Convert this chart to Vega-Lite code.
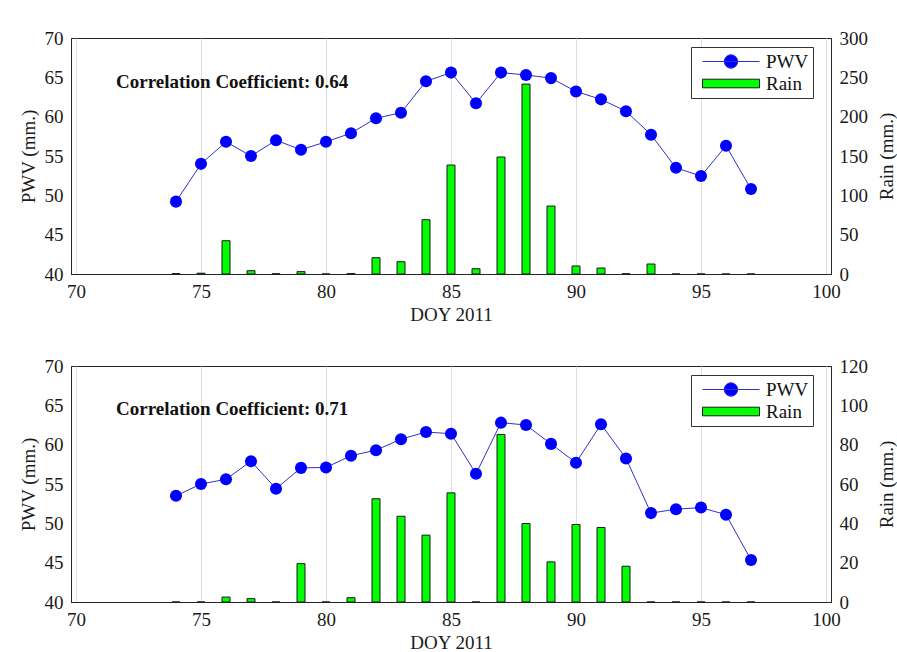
{
  "$schema": "https://vega.github.io/schema/vega-lite/v6.json",
  "background": "white",
  "padding": {"left": 18, "top": 28, "right": 0, "bottom": 0},
  "config": {
    "font": "Liberation Serif, Times New Roman, Tinos, serif",
    "style": {
      "guide-label": {"font": "Liberation Serif, Times New Roman, Tinos, serif"},
      "guide-title": {"font": "Liberation Serif, Times New Roman, Tinos, serif"}
    },
    "view": {"stroke": "#262626", "strokeWidth": 1},
    "axis": {
      "labelFont": "Liberation Serif, Times New Roman, Tinos, serif", "labelFontSize": 19, "labelColor": "#1a1a1a",
      "titleFont": "Liberation Serif, Times New Roman, Tinos, serif", "titleFontSize": 19, "titleFontWeight": "normal", "titleColor": "#1a1a1a",
      "domainColor": "#262626", "gridColor": "#dedede", "ticks": false, "labelPadding": 8
    },
    "legend": {
      "orient": "none", "legendX": 620, "legendY": 9, "title": null,
      "labelFont": "Liberation Serif, Times New Roman, Tinos, serif",
      "labelFontSize": 19, "labelColor": "#111",
      "symbolSize": 400, "labelOffset": 50, "padding": 4, "rowPadding": 1,
      "strokeColor": "#333", "fillColor": "white",
      "symbolOpacity": 1, "symbolStrokeWidth": 1
    }
  },
  "datasets": {
    "top": [
      {"doy": 74, "pwv": 49.2, "rain": 0.5},
      {"doy": 75, "pwv": 54.0, "rain": 1},
      {"doy": 76, "pwv": 56.8, "rain": 42.3},
      {"doy": 77, "pwv": 55.0, "rain": 4.2},
      {"doy": 78, "pwv": 57.0, "rain": 0.3},
      {"doy": 79, "pwv": 55.8, "rain": 3},
      {"doy": 80, "pwv": 56.8, "rain": 0},
      {"doy": 81, "pwv": 57.9, "rain": 0.5},
      {"doy": 82, "pwv": 59.8, "rain": 20.7},
      {"doy": 83, "pwv": 60.5, "rain": 15.6},
      {"doy": 84, "pwv": 64.5, "rain": 69},
      {"doy": 85, "pwv": 65.6, "rain": 138.5},
      {"doy": 86, "pwv": 61.7, "rain": 6.7},
      {"doy": 87, "pwv": 65.6, "rain": 148.7},
      {"doy": 88, "pwv": 65.3, "rain": 241.4},
      {"doy": 89, "pwv": 64.9, "rain": 86.4},
      {"doy": 90, "pwv": 63.2, "rain": 10.2},
      {"doy": 91, "pwv": 62.2, "rain": 7.6},
      {"doy": 92, "pwv": 60.7, "rain": 0.3},
      {"doy": 93, "pwv": 57.7, "rain": 12.7},
      {"doy": 94, "pwv": 53.5, "rain": 0},
      {"doy": 95, "pwv": 52.45, "rain": 0},
      {"doy": 96, "pwv": 56.3, "rain": 0},
      {"doy": 97, "pwv": 50.8, "rain": 0}
    ],
    "bottom": [
      {"doy": 74, "pwv": 53.5, "rain": 0},
      {"doy": 75, "pwv": 55.0, "rain": 0},
      {"doy": 76, "pwv": 55.6, "rain": 2.5},
      {"doy": 77, "pwv": 57.9, "rain": 1.7},
      {"doy": 78, "pwv": 54.4, "rain": 0},
      {"doy": 79, "pwv": 57.05, "rain": 19.5},
      {"doy": 80, "pwv": 57.1, "rain": 0},
      {"doy": 81, "pwv": 58.6, "rain": 2.2},
      {"doy": 82, "pwv": 59.3, "rain": 52.5},
      {"doy": 83, "pwv": 60.7, "rain": 43.6},
      {"doy": 84, "pwv": 61.6, "rain": 34},
      {"doy": 85, "pwv": 61.4, "rain": 55.5},
      {"doy": 86, "pwv": 56.3, "rain": 0},
      {"doy": 87, "pwv": 62.8, "rain": 85.2},
      {"doy": 88, "pwv": 62.5, "rain": 39.9},
      {"doy": 89, "pwv": 60.1, "rain": 20.4},
      {"doy": 90, "pwv": 57.7, "rain": 39.4},
      {"doy": 91, "pwv": 62.6, "rain": 37.9},
      {"doy": 92, "pwv": 58.25, "rain": 18.2},
      {"doy": 93, "pwv": 51.3, "rain": 0},
      {"doy": 94, "pwv": 51.8, "rain": 0},
      {"doy": 95, "pwv": 52.0, "rain": 0},
      {"doy": 96, "pwv": 51.1, "rain": 0},
      {"doy": 97, "pwv": 45.35, "rain": 0}
    ],
    "series": [{"series": "PWV"}, {"series": "Rain"}]
  },
  "resolve": {"scale": {"color": "independent", "shape": "independent", "stroke": "independent"}, "legend": {"color": "independent", "shape": "independent", "stroke": "independent"}},
  "spacing": 31,
  "vconcat": [
    {
      "width": 760, "height": 236,
      "data": {"name": "top"},
      "resolve": {"scale": {"y": "independent"}},
      "layer": [
        {
          "mark": {"type": "bar", "size": 8, "fill": "#00ff00", "stroke": "#1a1a1a", "strokeWidth": 1},
          "encoding": {
            "x": {"field": "doy", "type": "quantitative", "scale": {"domain": [70, 100], "nice": false, "zero": false}, "axis": {"values": [70, 75, 80, 85, 90, 95, 100], "title": "DOY 2011", "titlePadding": 4}},
            "y": {"field": "rain", "type": "quantitative", "scale": {"domain": [0, 300], "nice": false}, "axis": {"orient": "right", "values": [0, 50, 100, 150, 200, 250, 300], "title": "Rain (mm.)", "titleAngle": 270, "titleBaseline": "top", "titlePadding": 10, "grid": false}}
          }
        },
        {
          "layer": [
            {
              "mark": {"type": "line", "color": "#3030c8", "strokeWidth": 1},
              "encoding": {
                "x": {"field": "doy", "type": "quantitative"},
                "y": {"field": "pwv", "type": "quantitative", "scale": {"domain": [40, 70], "nice": false, "zero": false}, "axis": {"values": [40, 45, 50, 55, 60, 65, 70], "title": "PWV (mm.)", "titlePadding": 6}}
              }
            },
            {
              "mark": {"type": "point", "filled": true, "size": 145, "opacity": 1, "shape": "circle", "color": "#0000ff"},
              "encoding": {
                "x": {"field": "doy", "type": "quantitative"},
                "y": {"field": "pwv", "type": "quantitative", "scale": {"domain": [40, 70], "nice": false, "zero": false}, "axis": {"values": [40, 45, 50, 55, 60, 65, 70], "title": "PWV (mm.)", "titlePadding": 6}}
              }
            },
            {
              "data": {"values": [{"doy": 71.6, "pwv": 64.4, "label": "Correlation Coefficient: 0.64"}]},
              "mark": {"type": "text", "align": "left", "baseline": "middle", "font": "Liberation Serif, Times New Roman, Tinos, serif", "fontWeight": "bold", "fontSize": 19, "color": "#111"},
              "encoding": {
                "x": {"field": "doy", "type": "quantitative"},
                "y": {"field": "pwv", "type": "quantitative", "scale": {"domain": [40, 70], "nice": false, "zero": false}, "axis": {"values": [40, 45, 50, 55, 60, 65, 70], "title": "PWV (mm.)", "titlePadding": 6}},
                "text": {"field": "label"}
              }
            }
          ]
        },
        {
          "data": {"name": "series"},
          "mark": {"type": "point", "filled": true, "opacity": 0},
          "encoding": {
            "color": {"field": "series", "type": "nominal", "scale": {"domain": ["PWV", "Rain"], "range": ["#0000ff", "#00ff00"]}, "legend": {"labelExpr": "datum.label + '\u00a0'"}},
            "shape": {"field": "series", "type": "nominal", "scale": {"domain": ["PWV", "Rain"], "range": ["M-0.3,0H5.4M1.88,0A0.67,0.67 0 1,0 3.22,0A0.67,0.67 0 1,0 1.88,0Z", "M-0.3,-0.43H5.4V0.43H-0.3Z"]}, "legend": {"labelExpr": "datum.label + '\u00a0'"}},
            "stroke": {"field": "series", "type": "nominal", "scale": {"domain": ["PWV", "Rain"], "range": ["#3030c8", "#1a1a1a"]}, "legend": {"labelExpr": "datum.label + '\u00a0'"}}
          }
        }
      ]
    },
    {
      "width": 760, "height": 236,
      "data": {"name": "bottom"},
      "resolve": {"scale": {"y": "independent"}},
      "layer": [
        {
          "mark": {"type": "bar", "size": 8, "fill": "#00ff00", "stroke": "#1a1a1a", "strokeWidth": 1},
          "encoding": {
            "x": {"field": "doy", "type": "quantitative", "scale": {"domain": [70, 100], "nice": false, "zero": false}, "axis": {"values": [70, 75, 80, 85, 90, 95, 100], "title": "DOY 2011", "titlePadding": 4}},
            "y": {"field": "rain", "type": "quantitative", "scale": {"domain": [0, 120], "nice": false}, "axis": {"orient": "right", "values": [0, 20, 40, 60, 80, 100, 120], "title": "Rain (mm.)", "titleAngle": 270, "titleBaseline": "top", "titlePadding": 10, "grid": false}}
          }
        },
        {
          "layer": [
            {
              "mark": {"type": "line", "color": "#3030c8", "strokeWidth": 1},
              "encoding": {
                "x": {"field": "doy", "type": "quantitative"},
                "y": {"field": "pwv", "type": "quantitative", "scale": {"domain": [40, 70], "nice": false, "zero": false}, "axis": {"values": [40, 45, 50, 55, 60, 65, 70], "title": "PWV (mm.)", "titlePadding": 6}}
              }
            },
            {
              "mark": {"type": "point", "filled": true, "size": 145, "opacity": 1, "shape": "circle", "color": "#0000ff"},
              "encoding": {
                "x": {"field": "doy", "type": "quantitative"},
                "y": {"field": "pwv", "type": "quantitative", "scale": {"domain": [40, 70], "nice": false, "zero": false}, "axis": {"values": [40, 45, 50, 55, 60, 65, 70], "title": "PWV (mm.)", "titlePadding": 6}}
              }
            },
            {
              "data": {"values": [{"doy": 71.6, "pwv": 64.5, "label": "Correlation Coefficient: 0.71"}]},
              "mark": {"type": "text", "align": "left", "baseline": "middle", "font": "Liberation Serif, Times New Roman, Tinos, serif", "fontWeight": "bold", "fontSize": 19, "color": "#111"},
              "encoding": {
                "x": {"field": "doy", "type": "quantitative"},
                "y": {"field": "pwv", "type": "quantitative", "scale": {"domain": [40, 70], "nice": false, "zero": false}, "axis": {"values": [40, 45, 50, 55, 60, 65, 70], "title": "PWV (mm.)", "titlePadding": 6}},
                "text": {"field": "label"}
              }
            }
          ]
        },
        {
          "data": {"name": "series"},
          "mark": {"type": "point", "filled": true, "opacity": 0},
          "encoding": {
            "color": {"field": "series", "type": "nominal", "scale": {"domain": ["PWV", "Rain"], "range": ["#0000ff", "#00ff00"]}, "legend": {"labelExpr": "datum.label + '\u00a0'"}},
            "shape": {"field": "series", "type": "nominal", "scale": {"domain": ["PWV", "Rain"], "range": ["M-0.3,0H5.4M1.88,0A0.67,0.67 0 1,0 3.22,0A0.67,0.67 0 1,0 1.88,0Z", "M-0.3,-0.43H5.4V0.43H-0.3Z"]}, "legend": {"labelExpr": "datum.label + '\u00a0'"}},
            "stroke": {"field": "series", "type": "nominal", "scale": {"domain": ["PWV", "Rain"], "range": ["#3030c8", "#1a1a1a"]}, "legend": {"labelExpr": "datum.label + '\u00a0'"}}
          }
        }
      ]
    }
  ]
}
